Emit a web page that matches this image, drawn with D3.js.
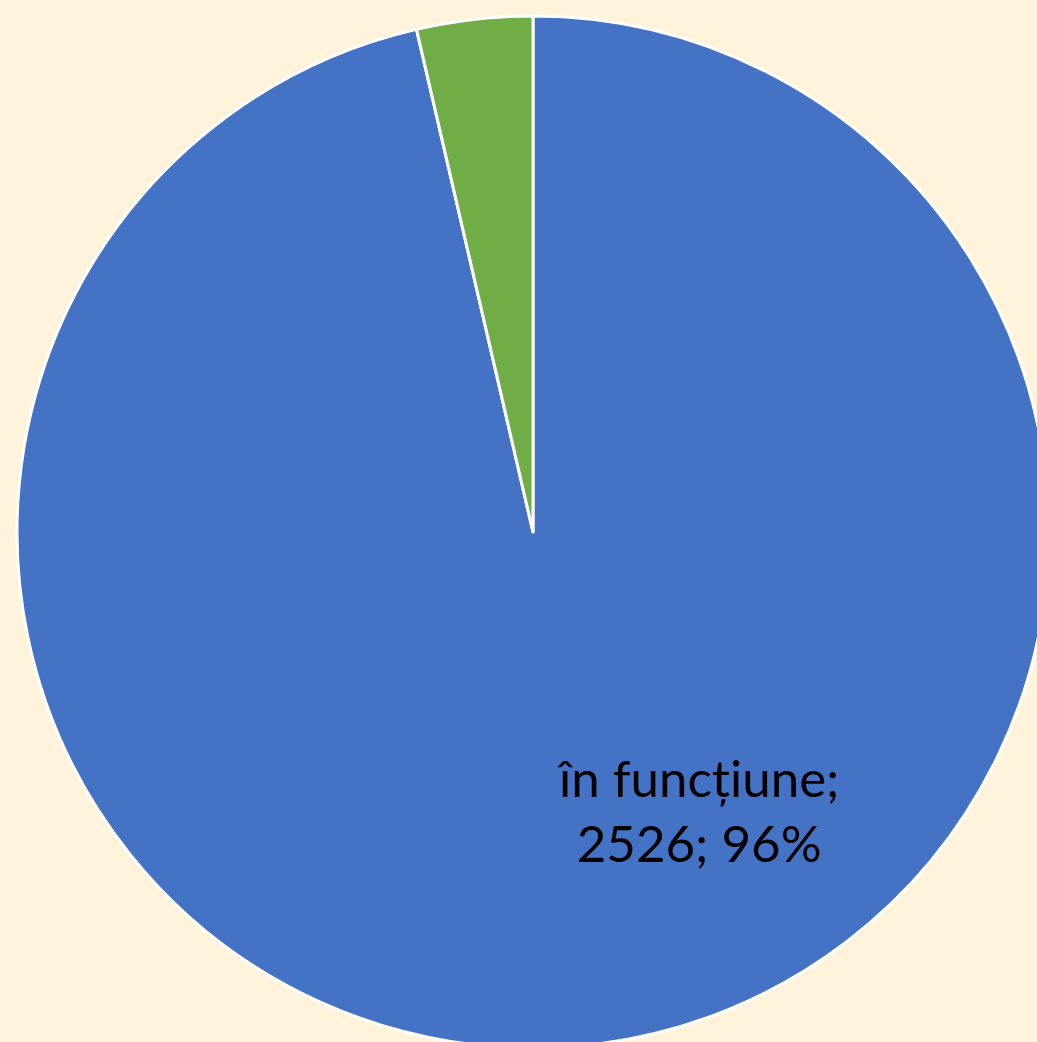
<!DOCTYPE html>
<html>
<head>
<meta charset="utf-8">
<script src="https://cdn.jsdelivr.net/npm/d3@7"></script>
<style>
html,body{margin:0;padding:0;background:#FFF3DB;overflow:hidden;}
svg{display:block;}
</style>
</head>
<body>
<svg id="chart" width="1037" height="1042"></svg>
<script>
const categories = ["în funcțiune", "altele"];
const values = [2526, 95];
const colors = ["#4472C4", "#70AD47"];
const showLabel = [true, false];

const W = 1037, H = 1042;
const cx = 533, cy = 532, r = 516;
const svg = d3.select("#chart");
svg.append("rect").attr("width", W).attr("height", H).attr("fill", "#FFF3DB");

const total = d3.sum(values);
const data = categories.map((c, i) => ({name: c, value: values[i], color: colors[i], label: showLabel[i]}));
const pie = d3.pie().value(d => d.value).sort(null);
const arc = d3.arc().innerRadius(0).outerRadius(r);
const g = svg.append("g").attr("transform", `translate(${cx},${cy})`);

const arcs = pie(data);
g.selectAll("path").data(arcs).join("path")
  .attr("d", arc)
  .attr("fill", d => d.data.color)
  .attr("stroke", "#fff")
  .attr("stroke-width", 3)
  .attr("stroke-linejoin", "round");

const fmt = d3.format(".0%");
const lab = g.selectAll("text").data(arcs.filter(d => d.data.label)).join("text")
  .attr("transform", () => `translate(${r * 0.322},${r * 0.513})`)
  .attr("text-anchor", "middle")
  .attr("font-family", "Lato, 'Open Sans', sans-serif")
  .attr("font-size", 51)
  .attr("fill", "#000");
lab.append("tspan").attr("x", 0).attr("dy", 0).text(d => d.data.name + ";");
lab.append("tspan").attr("x", 0).attr("dy", 65).text(d => d.data.value + "; " + fmt(d.data.value / total));
</script>
</body>
</html>
